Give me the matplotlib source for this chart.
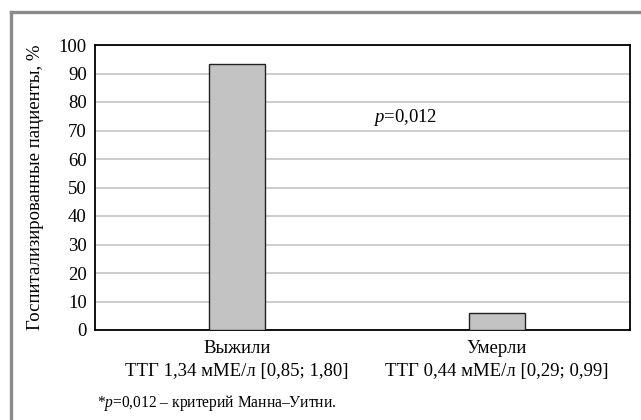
import matplotlib
matplotlib.use("Agg")
import matplotlib.pyplot as plt
from matplotlib.lines import Line2D

# data
groups = ["Выжили\nТТГ 1,34 мМЕ/л [0,85; 1,80]",
          "Умерли\nТТГ 0,44 мМЕ/л [0,29; 0,99]"]
hospitalized = [93.3, 6.0]
y_ticks = [0, 10, 20, 30, 40, 50, 60, 70, 80, 90, 100]
p_label = r"$\it{p}$=0,012"
footnote = r"*$\it{p}$=0,012 – критерий Манна–Уитни."

plt.rcParams["font.family"] = ["Liberation Serif", "DejaVu Serif"]
plt.rcParams["mathtext.fontset"] = "custom"
plt.rcParams["mathtext.it"] = "Liberation Serif:italic"
plt.rcParams["mathtext.rm"] = "Liberation Serif"

W, H = 641, 420
fig = plt.figure(figsize=(W / 100, H / 100), dpi=100)
ax = fig.add_axes([95 / W, 1 - 330 / H, (629.5 - 95) / W, (330 - 45) / H])

x = list(range(len(groups)))
ax.bar(x, hospitalized, width=0.215, color="#c3c3c3", edgecolor="#222222",
       linewidth=1.0, zorder=3)

ax.set_xlim(-0.545, 1.51)
ax.set_ylim(0, 100)
ax.set_yticks(y_ticks)
ax.set_xticks(x)
ax.set_xticklabels(groups, fontsize=13.5)
for t in ax.get_xticklabels():
    t.set_linespacing(1.5)
ax.tick_params(axis="both", length=0, labelsize=13.5)
ax.tick_params(axis="x", pad=7)
ax.tick_params(axis="y", pad=6)
ax.grid(axis="y", color="#c8c8c8", linewidth=1.3, zorder=0)
for s in ax.spines.values():
    s.set_color("black")
    s.set_linewidth(1.3)

ax.set_ylabel("Госпитализированные пациенты, %", fontsize=13.5)
ax.yaxis.set_label_coords(-0.095, 0.5)

ax.text(0.523, 73, p_label, fontsize=13.5, ha="left", va="baseline")

fig.text(97 / W, 1 - 403 / H, footnote, fontsize=11.2, va="center")

# grey frame on the left and top
yb = 1 - 11.5 / H
xb = 11 / W
fig.add_artist(Line2D([xb, xb], [0, yb], transform=fig.transFigure,
                      color="#8a8a8a", linewidth=2.4))
fig.add_artist(Line2D([xb, 1], [yb, yb], transform=fig.transFigure,
                      color="#8a8a8a", linewidth=2.4))

fig.savefig("out.png", dpi=100)
